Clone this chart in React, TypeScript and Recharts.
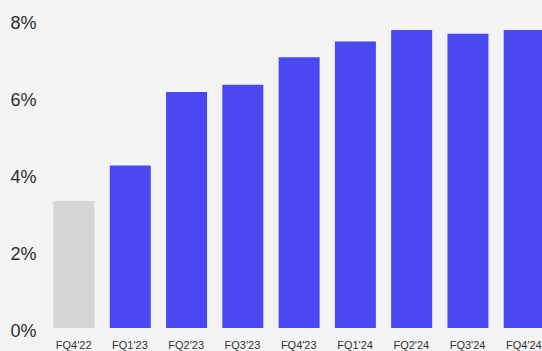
import { BarChart, Bar, XAxis, YAxis, Cell } from "recharts";

const quarters = ["FQ4'22", "FQ1'23", "FQ2'23", "FQ3'23", "FQ4'23", "FQ1'24", "FQ2'24", "FQ3'24", "FQ4'24"];
const marginPct = [3.3, 4.22, 6.13, 6.32, 7.03, 7.44, 7.74, 7.64, 7.74];
const yTicks = [0, 2, 4, 6, 8];

// the pre-period quarter is drawn in grey, the rest in brand blue
const baselineQuarter = "FQ4'22";

const BLUE = "#4a48f0";
const GREY = "#d4d5d6";
const FONT = "'Liberation Sans', Arial, Helvetica, sans-serif";

const data = quarters.map((q, i) => ({ quarter: q, value: marginPct[i] }));

// y labels sit a few px below their gridline in the original
function YTick(props: any) {
  const { x, y, payload } = props;
  return (
    <text
      x={x}
      y={y + 3}
      dy="0.355em"
      textAnchor="end"
      fontSize={18}
      fontFamily={FONT}
      fill="#2e2e2e"
    >
      {payload.value}%
    </text>
  );
}

export default function App() {
  return (
    <div
      style={{
        position: "fixed",
        left: 0,
        top: 0,
        width: 542,
        height: 351,
        overflow: "hidden",
        background: "#f3f3f3",
      }}
    >
      <BarChart
        width={560}
        height={351}
        data={data}
        margin={{ top: 20, right: 8, left: 0, bottom: 0 }}
      >
        <XAxis
          dataKey="quarter"
          axisLine={false}
          tickLine={false}
          tickSize={0}
          tickMargin={13}
          height={23}
          interval={0}
          tick={{ fontSize: 11, fontFamily: FONT, fill: "#333" }}
        />
        <YAxis
          domain={[0, 8]}
          ticks={yTicks}
          axisLine={false}
          tickLine={false}
          tickSize={0}
          tickMargin={9}
          width={45.5}
          tick={<YTick />}
        />
        <Bar dataKey="value" barSize={41} isAnimationActive={false}>
          {data.map((d) => (
            <Cell key={d.quarter} fill={d.quarter === baselineQuarter ? GREY : BLUE} />
          ))}
        </Bar>
      </BarChart>
    </div>
  );
}
